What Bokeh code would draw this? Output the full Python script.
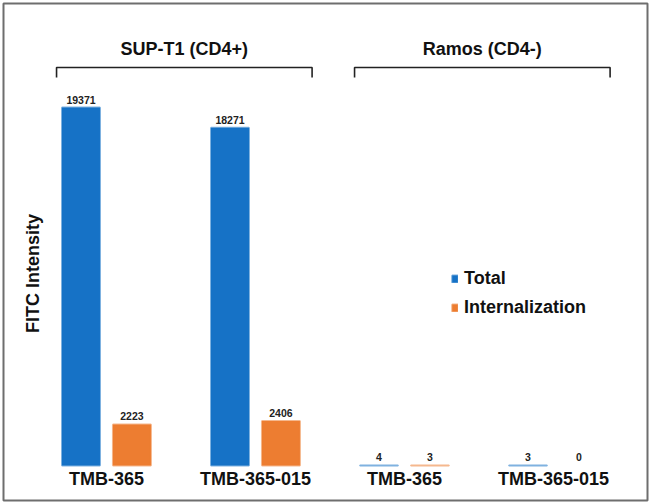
import math
from bokeh.plotting import figure
from bokeh.models import Range1d, Label, Legend, LegendItem, ColumnDataSource
from bokeh.core.properties import value
from bokeh.embed import file_html
from bokeh.resources import INLINE

# ---- data ----
cell_lines = ["SUP-T1 (CD4+)", "Ramos (CD4-)"]
compounds = ["TMB-365", "TMB-365-015", "TMB-365", "TMB-365-015"]
total = [19371, 18271, 4, 3]
internalization = [2223, 2406, 3, 0]
series = ["Total", "Internalization"]
colors = ["#1672c6", "#ed7d31"]
y_label = "FITC Intensity"

FONT = "Liberation Sans"
NARROW = "Liberation Sans Narrow, Liberation Sans"

p = figure(width=650, height=503, output_backend="svg", toolbar_location=None,
           x_range=Range1d(-0.691, 3.631), y_range=Range1d(-1894, 25000),
           x_axis_location=None, y_axis_location=None,
           min_border_left=3, min_border_right=3, min_border_top=3, min_border_bottom=3)
p.xgrid.visible = False
p.ygrid.visible = False
p.outline_line_color = "#6e6e6e"
p.outline_line_width = 2
p.background_fill_color = "white"
p.border_fill_color = "white"

xs = list(range(len(compounds)))
off = 0.171
bw = 38 / 149

renderers = []
for k, (name, vals) in enumerate(zip(series, [total, internalization])):
    x = [i + (-off if k == 0 else off) for i in xs]
    src = ColumnDataSource(dict(x=x, top=vals,
                                la=[0.0 if v == 0 else 0.55 for v in vals],
                                lbl=[str(v) for v in vals]))
    r = p.vbar(x="x", top="top", bottom=0, width=bw, source=src,
               fill_color=colors[k], line_color=colors[k], line_alpha="la", line_width=2)
    renderers.append(r)
    p.text(x="x", y="top", text="lbl", source=src, y_offset=-4,
           text_align="center", text_baseline="bottom",
           text_font=value(NARROW), text_font_style="bold",
           text_font_size="10.5px", text_color="#222222")

# category labels
p.text(x=xs, y=[0] * len(xs), text=compounds, y_offset=4,
       text_align="center", text_baseline="top",
       text_font=value(FONT), text_font_style="bold",
       text_font_size="18px", text_color="#111111")

# brackets and cell line headers
upp = 54.11  # data units per pixel
y_top = 398 * upp
y_tip = 388 * upp
for k, name in enumerate(cell_lines):
    left = 2 * k - 0.335
    right = 2 * k + 1 + 0.38
    p.line(x=[left, left, right, right], y=[y_tip, y_top, y_top, y_tip],
           line_color="#222222", line_width=1.6)
    p.add_layout(Label(x=(left + right) / 2, y=417 * upp, text=name,
                       text_align="center", text_baseline="middle",
                       text_font=FONT, text_font_style="bold",
                       text_font_size="18px", text_color="#111111"))

p.add_layout(Label(x=-0.49, y=192 * upp, text=y_label, angle=math.pi / 2,
                   text_align="center", text_baseline="middle",
                   text_font=FONT, text_font_style="bold",
                   text_font_size="18px", text_color="#111111"))

legend = Legend(items=[LegendItem(label=series[i], renderers=[renderers[i]]) for i in range(2)],
                location=(448, 182), label_text_font=FONT, label_text_font_style="bold",
                label_text_font_size="18px", label_text_color="#111111",
                glyph_width=7, glyph_height=9, spacing=8, padding=0, margin=0,
                label_standoff=6, border_line_color=None, background_fill_alpha=0)
p.add_layout(legend)

open("out.html", "w").write(file_html(p, INLINE))
